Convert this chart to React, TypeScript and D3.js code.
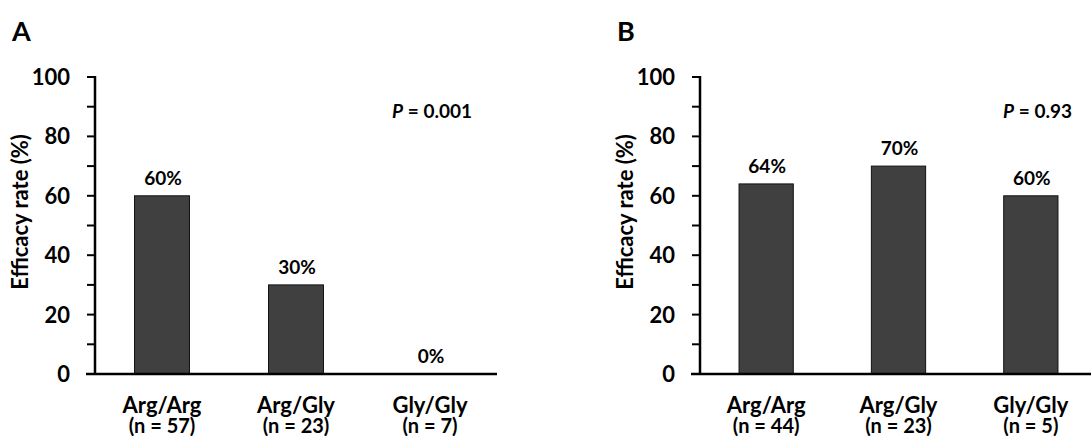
import * as d3 from 'd3';
import React from 'react';

// genotype groups, same order in both panels
const categories = ['Arg/Arg', 'Arg/Gly', 'Gly/Gly'];
const countsA = [57, 23, 7];
const countsB = [44, 23, 5];
const valuesA = [60, 30, 0];
const valuesB = [64, 70, 60];
const yTicks = [0, 20, 40, 60, 80, 100];
const yMinorTicks = [10, 30, 50, 70, 90];

const FONT = 'Lato, "Open Sans", sans-serif';

function Panel({ letter, left, right, values, counts, pText }) {
  const top = 77;
  const bottom = 374;
  // bars sit in the middle of equal thirds
  const x = d3.scaleBand().domain(categories).range([left, right]).paddingInner(0.59).paddingOuter(0.295);
  const y = d3.scaleLinear().domain([0, 100]).range([bottom, top]);

  return (
    <g>
      <text x={left - 83} y={41} fontSize={27} fontWeight={700} fontFamily={FONT}>{letter}</text>

      {/* y axis title */}
      <text
        transform={`translate(${left - 67},${212}) rotate(-90)`}
        textAnchor="middle"
        fontSize={22}
        fontWeight={700}
        fontFamily={FONT}
      >Efficacy rate (%)</text>

      {/* bars */}
      {values.map((v, i) => (
        <rect
          key={i}
          x={x(categories[i])}
          y={y(v)}
          width={x.bandwidth()}
          height={bottom - y(v)}
          fill="#404040"
          stroke="#111"
          strokeWidth={1}
        />
      ))}
      {values.map((v, i) => (
        <text
          key={'l' + i}
          x={x(categories[i]) + x.bandwidth() / 2 + 1}
          y={y(v) - 11}
          textAnchor="middle"
          fontSize={19}
          fontWeight={700}
          fontFamily={FONT}
        >{v}%</text>
      ))}

      {/* axes */}
      <line x1={left} x2={left} y1={top - 1} y2={bottom} stroke="#000" strokeWidth={2.5} />
      <line x1={left - 9} x2={right} y1={bottom} y2={bottom} stroke="#000" strokeWidth={2.5} />
      {yTicks.concat(yMinorTicks).map((t) => (
        <line key={'t' + t} x1={left - 8} x2={left} y1={y(t)} y2={y(t)} stroke="#000" strokeWidth={2} />
      ))}
      {yTicks.map((t) => (
        <text
          key={'tl' + t}
          x={left - 25}
          y={y(t) + 8}
          textAnchor="end"
          fontSize={22}
          fontWeight={700}
          fontFamily={FONT}
        >{t}</text>
      ))}

      {/* category labels */}
      {categories.map((c, i) => (
        <g key={'c' + c}>
          <text
            x={x(c) + x.bandwidth() / 2}
            y={413}
            textAnchor="middle"
            fontSize={22}
            fontWeight={700}
            fontFamily={FONT}
          >{c}</text>
          <text
            x={x(c) + x.bandwidth() / 2}
            y={433}
            textAnchor="middle"
            fontSize={20}
            fontWeight={700}
            fontFamily={FONT}
          >(n = {counts[i]})</text>
        </g>
      ))}

      <text x={right - 25} y={118} textAnchor="end" fontSize={19} fontWeight={700} fontFamily={FONT}>
        <tspan fontStyle="italic">P</tspan> = {pText}
      </text>
    </g>
  );
}

export default function App() {
  return (
    <svg width={1091} height={436} style={{ position: 'absolute', left: 0, top: 0, background: '#fff' }}>
      <rect width={1091} height={436} fill="#fff" />
      <Panel letter="A" left={95} right={497} values={valuesA} counts={countsA} pText="0.001" />
      <Panel letter="B" left={700} right={1097} values={valuesB} counts={countsB} pText="0.93" />
    </svg>
  );
}
